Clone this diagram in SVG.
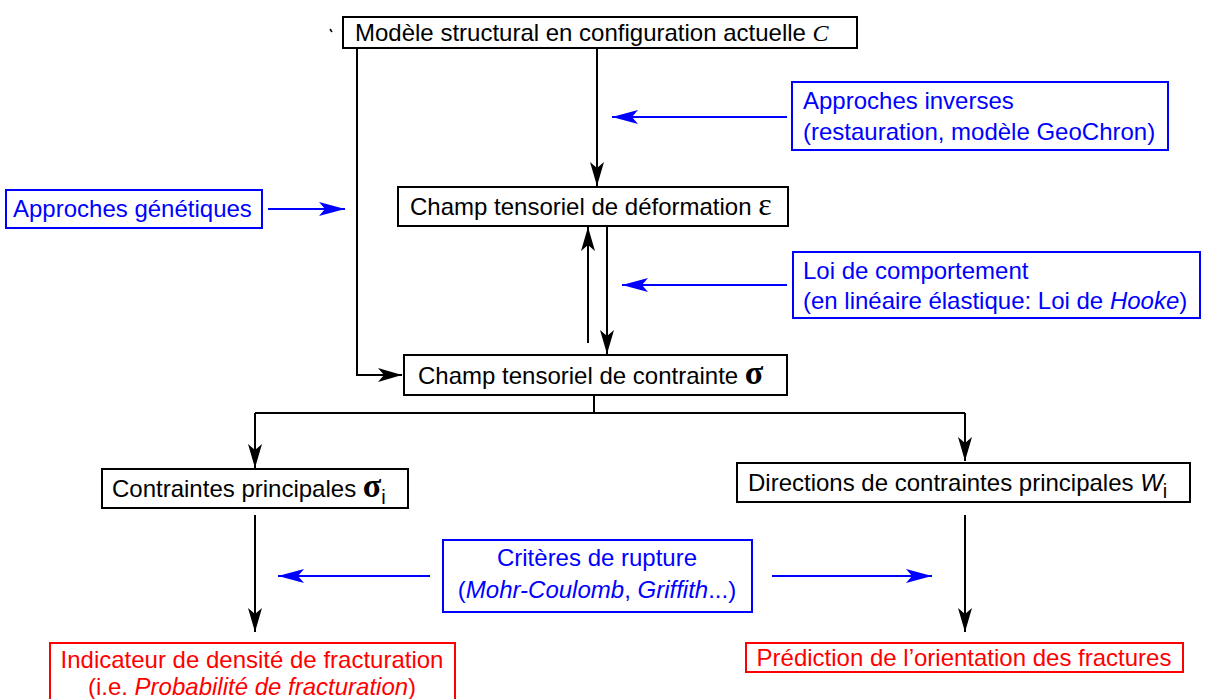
<svg xmlns="http://www.w3.org/2000/svg" width="1206" height="699" viewBox="0 0 1206 699">
<style>
text{font-family:"Liberation Sans",Arial,sans-serif;font-size:24px}
.k{fill:#000}.b{fill:#0000ff}.r{fill:#ff0000}
.bk{fill:#fff;stroke:#000;stroke-width:2}
.bb{fill:#fff;stroke:#0000ff;stroke-width:2}
.br{fill:#fff;stroke:#ff0000;stroke-width:2}
.lk{fill:none;stroke:#000;stroke-width:2}
.lb{fill:none;stroke:#0000ff;stroke-width:2}
.sym{font-family:"Liberation Serif","DejaVu Serif",serif}
.sub{font-size:20px}
</style>
<defs>
<marker id="ak" markerUnits="userSpaceOnUse" markerWidth="24" markerHeight="14" viewBox="0 0 24 14" refX="24" refY="7" orient="auto"><path d="M0,0 L24,7 L0,14 L6,7 z" fill="#000"/></marker>
<marker id="ab" markerUnits="userSpaceOnUse" markerWidth="26" markerHeight="14" viewBox="0 0 26 14" refX="26" refY="7" orient="auto"><path d="M0,0 L26,7 L0,14 L6,7 z" fill="#0000ff"/></marker>
</defs>
<rect width="1206" height="699" fill="#fff"/>
<g id="connectors">
<path class="lk" d="M357,48 V375 H402" marker-end="url(#ak)"/>
<path class="lk" d="M597,48 V186" marker-end="url(#ak)"/>
<path class="lk" d="M588,343 V227" marker-end="url(#ak)"/>
<path class="lk" d="M607,227 V354" marker-end="url(#ak)"/>
<path class="lk" d="M594,395 V413"/>
<path class="lk" d="M255,413 H965"/>
<path class="lk" d="M255,413 V468" marker-end="url(#ak)"/>
<path class="lk" d="M965,413 V461" marker-end="url(#ak)"/>
<path class="lk" d="M255,515 V632" marker-end="url(#ak)"/>
<path class="lk" d="M965,515 V632" marker-end="url(#ak)"/>
<path class="lb" d="M787,117 H612" marker-end="url(#ab)"/>
<path class="lb" d="M268,209 H345" marker-end="url(#ab)"/>
<path class="lb" d="M787,285 H622" marker-end="url(#ab)"/>
<path class="lb" d="M430,576 H278" marker-end="url(#ab)"/>
<path class="lb" d="M772,576 H932" marker-end="url(#ab)"/>
<path d="M330,29 l2,3" stroke="#000" stroke-width="1.5"/>
</g>
<g id="n-modele">
<rect class="bk" x="343" y="17" width="514" height="31"/>
<text class="k" x="355" y="41">Modèle structural en configuration actuelle <tspan class="sym" font-style="italic">C</tspan></text>
</g>
<g id="n-inverses">
<rect class="bb" x="792" y="82" width="376" height="68"/>
<text class="b" x="803" y="109">Approches inverses</text>
<text class="b" x="803" y="140">(restauration, modèle GeoChron)</text>
</g>
<g id="n-genetiques">
<rect class="bb" x="6" y="190" width="256" height="38"/>
<text class="b" x="13" y="217">Approches génétiques</text>
</g>
<g id="n-deformation">
<rect class="bk" x="398" y="187" width="390" height="39"/>
<text class="k" x="410" y="215">Champ tensoriel de déformation <tspan class="sym" font-size="32">ε</tspan></text>
</g>
<g id="n-loi">
<rect class="bb" x="793" y="252" width="407" height="66"/>
<text class="b" x="803" y="279">Loi de comportement</text>
<text class="b" x="803" y="309">(en linéaire élastique: Loi de <tspan font-style="italic">Hooke</tspan>)</text>
</g>
<g id="n-contrainte">
<rect class="bk" x="404" y="355" width="383" height="40"/>
<text class="k" x="418" y="384">Champ tensoriel de contrainte <tspan class="sym" font-size="34" font-weight="bold">σ</tspan></text>
</g>
<g id="n-principales">
<rect class="bk" x="102" y="469" width="306" height="39"/>
<text class="k" x="112" y="497">Contraintes principales <tspan class="sym" font-size="34" font-weight="bold">σ</tspan><tspan class="sub" dy="7">i</tspan></text>
</g>
<g id="n-directions">
<rect class="bk" x="737" y="463" width="453" height="39"/>
<text class="k" x="748" y="491">Directions de contraintes principales <tspan font-style="italic">W</tspan><tspan class="sub" dy="7">i</tspan></text>
</g>
<g id="n-criteres">
<rect class="bb" x="443" y="540" width="309" height="72"/>
<text class="b" x="597" y="566" text-anchor="middle">Critères de rupture</text>
<text class="b" x="597" y="598" text-anchor="middle">(<tspan font-style="italic">Mohr-Coulomb</tspan>, <tspan font-style="italic">Griffith</tspan>...)</text>
</g>
<g id="n-indicateur">
<rect class="br" x="50" y="643" width="405" height="58"/>
<text class="r" x="252" y="668" text-anchor="middle">Indicateur de densité de fracturation</text>
<text class="r" x="252" y="695" text-anchor="middle">(i.e. <tspan font-style="italic">Probabilité de fracturation</tspan>)</text>
</g>
<g id="n-prediction">
<rect class="br" x="746" y="643" width="437" height="29"/>
<text class="r" x="964" y="666" text-anchor="middle">Prédiction de l’orientation des fractures</text>
</g>
</svg>
